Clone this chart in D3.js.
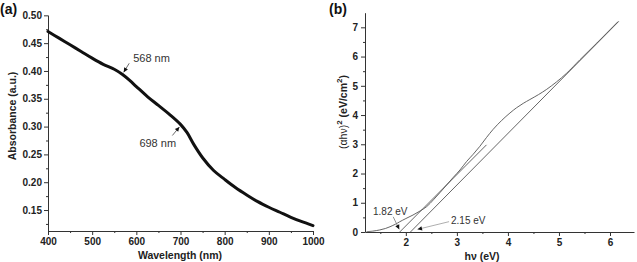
<!DOCTYPE html>
<html><head><meta charset="utf-8">
<script src="https://cdn.jsdelivr.net/npm/d3@7"></script>
<style>
html,body{margin:0;padding:0;background:#fff;}
svg{display:block;font-family:"Liberation Sans",Arial,sans-serif;}
.tick text{font-weight:bold;font-size:10px;fill:#222;}
</style></head>
<body>
<svg id="c" width="637" height="262"></svg>
<script>
// ---------- Data ----------
// (a) absorbance spectrum
const wavelength = [400,425,450,475,500,525,550,568,585,600,625,650,675,700,715,730,750,775,800,825,850,875,900,925,950,975,1000];
const absorbance = [0.471,0.459,0.447,0.435,0.423,0.412,0.403,0.394,0.383,0.372,0.354,0.338,0.322,0.304,0.289,0.268,0.244,0.221,0.205,0.190,0.177,0.165,0.155,0.146,0.137,0.129,0.122];
const xTicksA = [400,500,600,700,800,900,1000];
const yTicksA = [0.15,0.20,0.25,0.30,0.35,0.40,0.45,0.50];
const peakLabels = ["568 nm","698 nm"];
const peakWl = [568,702];
const peakAbs = [0.394,0.302];

// (b) Tauc plot
const energy = [1.23,1.35,1.49,1.60,1.69,1.80,1.88,2.00,2.14,2.28,2.41,2.54,2.67,2.80,2.93,3.06,3.19,3.32,3.45,3.58,3.71,3.88,4.04,4.17,4.30,4.43,4.60,4.76,4.95,5.15,5.41,5.74,6.16];
const tauc   = [0.01,0.03,0.07,0.12,0.18,0.27,0.35,0.46,0.58,0.72,0.87,1.10,1.35,1.61,1.87,2.12,2.41,2.66,2.93,3.23,3.51,3.82,4.07,4.25,4.40,4.53,4.70,4.88,5.13,5.43,5.89,6.46,7.20];
const fit1X = [1.88,3.58];
const fit1Y = [0,2.98];
const fit2X = [2.09,6.17];
const fit2Y = [0,7.2];
const xTicksB = [2,3,4,5,6];
const yTicksB = [0,1,2,3,4,5,6,7];
const gapLabels = ["1.82 eV","2.15 eV"];
const gapX = [1.89,2.2];
const gapY = [0.04,0.08];

// ---------- Drawing ----------
const svg = d3.select("#c");
const axisColor = "#333";

function styleAxis(g){
  g.select(".domain").attr("stroke",axisColor).attr("stroke-width",1);
  g.selectAll(".tick line").attr("stroke",axisColor);
}
function arrow(g, x1,y1,x2,y2,color){
  g.append("line").attr("x1",x1).attr("y1",y1).attr("x2",x2).attr("y2",y2)
    .attr("stroke",color).attr("stroke-width",0.8);
  const ang = Math.atan2(y2-y1,x2-x1), L=4.5, W=2.2;
  const bx = x2 - L*Math.cos(ang), by = y2 - L*Math.sin(ang);
  const px = -Math.sin(ang)*W, py = Math.cos(ang)*W;
  g.append("path").attr("d",`M${x2},${y2}L${bx+px},${by+py}L${bx-px},${by-py}Z`).attr("fill","#111");
}

// ---- Panel (a)
const xA = d3.scaleLinear().domain([400,1000]).range([48,313]);
const yA = d3.scaleLinear().domain([0.1123,0.5006]).range([231,15]);
const gA = svg.append("g");

gA.append("g").attr("transform","translate(0,231)")
  .call(d3.axisBottom(xA).tickValues(d3.range(450,1000,100)).tickSize(2).tickFormat(""))
  .call(g=>{g.select(".domain").remove(); g.selectAll(".tick line").attr("stroke",axisColor);});
gA.append("g").attr("transform","translate(0,231)")
  .call(d3.axisBottom(xA).tickValues(xTicksA).tickSize(4).tickSizeOuter(0).tickPadding(3).tickFormat(d3.format("d")))
  .call(styleAxis);
gA.append("g").attr("transform","translate(48,0)")
  .call(d3.axisLeft(yA).tickValues(d3.range(0.125,0.5,0.05)).tickSize(2).tickFormat(""))
  .call(g=>{g.select(".domain").remove(); g.selectAll(".tick line").attr("stroke",axisColor);});
gA.append("g").attr("transform","translate(48,0)")
  .call(d3.axisLeft(yA).tickValues(yTicksA).tickSize(4).tickSizeOuter(0).tickPadding(2).tickFormat(d3.format(".2f")))
  .call(styleAxis);

gA.append("path")
  .datum(wavelength.map((w,i)=>[w,absorbance[i]]))
  .attr("fill","none").attr("stroke","#111").attr("stroke-width",3)
  .attr("stroke-linejoin","round").attr("stroke-linecap","round")
  .attr("d",d3.line().x(d=>xA(d[0])).y(d=>yA(d[1])).curve(d3.curveCatmullRom));

// annotations (a)
{
  const p0x=xA(peakWl[0]), p0y=yA(peakAbs[0]);
  arrow(gA,p0x+7,p0y-11,p0x+1.5,p0y-2,"#444");
  gA.append("text").attr("x",p0x+11).attr("y",p0y-12).attr("font-size",11).attr("fill","#333").text(peakLabels[0]);
  const p1x=xA(peakWl[1]), p1y=yA(peakAbs[1]);
  arrow(gA,p1x-9,p1y+10,p1x-2,p1y+1.5,"#444");
  gA.append("text").attr("x",p1x-42).attr("y",p1y+22).attr("font-size",11).attr("fill","#333").text(peakLabels[1]);
}

gA.append("text").attr("x",180).attr("y",259).attr("text-anchor","middle")
  .attr("font-size",10.5).attr("font-weight","bold").attr("fill","#222").text("Wavelength (nm)");
gA.append("text").attr("transform","translate(16,116) rotate(-90)").attr("text-anchor","middle")
  .attr("font-size",10.5).attr("font-weight","bold").attr("fill","#222").text("Absorbance (a.u.)");
gA.append("text").attr("x",0).attr("y",14).attr("font-size",14).attr("font-weight","bold").attr("fill","#111").text("(a)");

// ---- Panel (b)
const xB = d3.scaleLinear().domain([1.2,6.47]).range([365,634]);
const yB = d3.scaleLinear().domain([0,7.5]).range([232,12.7]);
const gB = svg.append("g");

gB.append("g").attr("transform","translate(0,232)")
  .call(d3.axisBottom(xB).tickValues([1.5,2.5,3.5,4.5,5.5]).tickSize(2).tickFormat(""))
  .call(g=>{g.select(".domain").remove(); g.selectAll(".tick line").attr("stroke",axisColor);});
gB.append("g").attr("transform","translate(0,232)")
  .call(d3.axisBottom(xB).tickValues(xTicksB).tickSize(4).tickSizeOuter(0).tickPadding(3).tickFormat(d3.format("d")))
  .call(styleAxis);
gB.append("g").attr("transform","translate(365,0)")
  .call(d3.axisLeft(yB).tickValues([0.5,1.5,2.5,3.5,4.5,5.5,6.5]).tickSize(2).tickFormat(""))
  .call(g=>{g.select(".domain").remove(); g.selectAll(".tick line").attr("stroke",axisColor);});
gB.append("g").attr("transform","translate(365,0)")
  .call(d3.axisLeft(yB).tickValues(yTicksB).tickSize(4).tickSizeOuter(0).tickPadding(3).tickFormat(d3.format("d")))
  .call(styleAxis);

const lineB = d3.line().x(d=>xB(d[0])).y(d=>yB(d[1]));
gB.append("path").datum(fit1X.map((x,i)=>[x,fit1Y[i]]))
  .attr("fill","none").attr("stroke","#555").attr("stroke-width",0.9).attr("d",lineB);
gB.append("path").datum(fit2X.map((x,i)=>[x,fit2Y[i]]))
  .attr("fill","none").attr("stroke","#555").attr("stroke-width",0.9).attr("d",lineB);
gB.append("path").datum(energy.map((e,i)=>[e,tauc[i]]))
  .attr("fill","none").attr("stroke","#555").attr("stroke-width",0.9)
  .attr("d",lineB.curve(d3.curveCatmullRom));

// annotations (b)
{
  const gx0=xB(gapX[0]), gy0=yB(gapY[0]);
  arrow(gB,gx0-7,gy0-14,gx0-1,gy0-1.5,"#777");
  gB.append("text").attr("x",373).attr("y",215).attr("font-size",10).attr("fill","#333").text(gapLabels[0]);
  const gx1=xB(gapX[1]), gy1=yB(gapY[1]);
  arrow(gB,gx1+33,gy1-8,gx1+1.5,gy1-0.3,"#999");
  gB.append("text").attr("x",451).attr("y",224).attr("font-size",10).attr("fill","#333").text(gapLabels[1]);
}

gB.append("text").attr("x",482).attr("y",260).attr("text-anchor","middle")
  .attr("font-size",10.5).attr("font-weight","bold").attr("fill","#222").text("hν (eV)");
{
  const t = gB.append("text").attr("transform","translate(347,112) rotate(-90)").attr("text-anchor","middle")
    .attr("font-size",10.5).attr("fill","#222");
  t.append("tspan").text("(αhν)");
  t.append("tspan").attr("dy",-5).attr("font-size",8).attr("font-weight","bold").text("2");
  t.append("tspan").attr("dy",5).attr("font-weight","bold").text(" (eV/cm");
  t.append("tspan").attr("dy",-5).attr("font-size",8).attr("font-weight","bold").text("2");
  t.append("tspan").attr("dy",5).attr("font-weight","bold").text(")");
}
gB.append("text").attr("x",329).attr("y",14).attr("font-size",14).attr("font-weight","bold").attr("fill","#111").text("(b)");
</script>
</body></html>
